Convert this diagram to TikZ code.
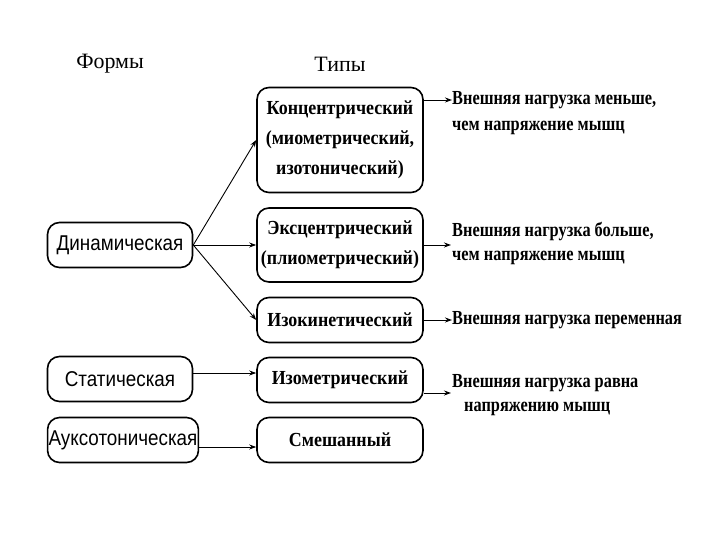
\documentclass[tikz,border=0pt]{standalone}
\usepackage{fontspec}
\setmainfont{Liberation Serif}
\setsansfont{Liberation Sans}
\newfontfamily\notefont{Liberation Serif}[FakeStretch=0.82]
\newfontfamily\kindfont{Liberation Serif}[FakeStretch=0.9]
\newfontfamily\formfont{Liberation Sans}[FakeStretch=0.88]
\usetikzlibrary{arrows.meta}
\begin{document}
\begin{tikzpicture}[
    x=1bp, y=-1bp,
    form/.style={draw, rounded corners=12bp, line width=1.6bp, minimum width=145bp,
      minimum height=45bp, inner sep=1bp, font=\formfont\fontsize{21.5}{23}\selectfont},
    kind/.style={draw, rounded corners=12bp, line width=1.6bp, minimum width=166bp,
      minimum height=45bp, inner sep=2bp, align=center,
      font=\kindfont\bfseries\fontsize{20}{30}\selectfont},
    note/.style={anchor=west, inner sep=0pt, font=\notefont\bfseries\fontsize{20}{22}\selectfont},
    head/.style={font=\fontsize{22}{24}\selectfont},
    arr/.style={-{Stealth[length=7bp, width=5bp]}, line width=0.9bp}
  ]
  \useasboundingbox (0,0) rectangle (720,540);
  % headings
  \node[head] (hforms) at (110,64) {Формы};
  \node[head] (htypes) at (340,64) {Типы};
  % forms
  \node[form] (dyn) at (120,245) {Динамическая};
  \node[form] (stat) at (120,379) {Статическая};
  \node[form, minimum width=150bp] (auk) at (123,440) {Ауксотоническая};
  % types
  \node[kind, minimum height=105bp] (conc) at (340,140)
    {Концентрический\\(миометрический,\\изотонический)};
  \node[kind, minimum height=74bp] (ecc) at (340,245)
    {Эксцентрический\\(плиометрический)};
  \node[kind] (isok) at (340,320) {Изокинетический};
  \node[kind] (isom) at (340,380) {Изометрический};
  \node[kind] (mix) at (340,440) {Смешанный};
  % loads
  \node[note] (d1a) at (452,100) {Внешняя нагрузка меньше,};
  \node[note] (d1b) at (452,128) {чем напряжение мышц};
  \node[note] (d2a) at (452,232) {Внешняя нагрузка больше,};
  \node[note] (d2b) at (452,258) {чем напряжение мышц};
  \node[note] (d3) at (452,320) {Внешняя нагрузка переменная};
  \node[note] (d4a) at (452,383) {Внешняя нагрузка равна};
  \node[note] (d4b) at (464,409) {напряжению мышц};
  \coordinate (d2in) at (451,245);
  \coordinate (d4in) at (451,393);
  % forms -> types
  \draw[arr] (dyn.east) -- (conc.west);
  \draw[arr] (dyn.east) -- (ecc.west);
  \draw[arr] (dyn.east) -- (isok.west);
  \draw[arr] (stat.east |- 0,373) -- (isom.west |- 0,373);
  \draw[arr] (auk.east |- 0,447) -- (mix.west |- 0,447);
  % types -> loads
  \draw[arr] (conc.east |- d1a.west) -- (d1a.west);
  \draw[arr] (ecc.east) -- (d2in);
  \draw[arr] (isok.east) -- (d3.west);
  \draw[arr] (isom.east |- d4in) -- (d4in);
\end{tikzpicture}
\end{document}
